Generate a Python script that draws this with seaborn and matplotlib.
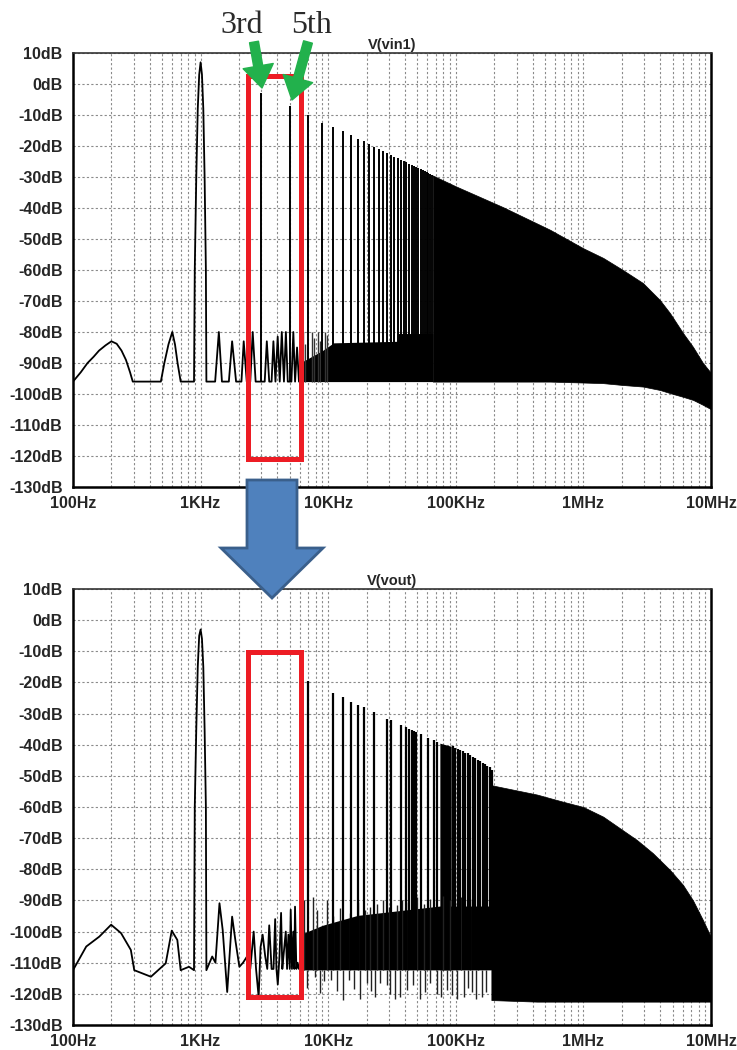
import numpy as np
import matplotlib
matplotlib.use("Agg")
import matplotlib.pyplot as plt
import seaborn as sns
from matplotlib.patches import Polygon, Rectangle, FancyArrowPatch
from matplotlib.ticker import FixedLocator, LogLocator, NullFormatter

# ---------------- V(vin1) : values ----------------
vin_trace_f = [100, 115, 130, 145, 160, 180, 200, 220, 240, 260, 280, 294, 488,
               520, 560, 600, 630, 660, 698, 888,
               900, 925, 950, 975, 1000, 1025, 1050, 1075, 1100, 1110, 1300, 1390,
               1470, 1665, 1766, 1897, 2090, 2177, 2300, 2450, 2560, 2700, 3180,
               3303, 3450, 3600, 3720, 3860, 4020, 4170, 4328, 4500, 4660, 4820,
               5150, 5330, 5500, 5700, 5900, 6000]
vin_trace_db = [-96, -93, -90, -88, -86, -84.3, -83, -83.8, -86, -89, -93, -96, -96,
                -90, -84, -80, -84, -90, -96, -96,
                -60, -30, -8, 3, 7, 3, -8, -30, -60, -96, -96, -80,
                -96, -96, -83, -96, -96, -83, -96, -96, -80, -96, -96,
                -83, -96, -96, -83, -96, -81.5, -96, -80, -96, -80, -96,
                -96, -80, -96, -85, -96, -96]
vin_harm_khz = [3, 5, 7, 9, 11, 13, 15, 17, 19, 21, 23, 25, 27, 29, 31, 33, 35,
                37, 39, 41, 43, 45, 47, 49, 51, 53, 55, 57, 59, 61, 63, 65]
vin_harm_db = [-3, -7, -10, -12.5, -13.8, -15.2, -16.5, -17.6, -18.5, -19.3, -20.2,
               -21, -21.6, -22.2, -22.8, -23.4, -23.9, -24.4, -24.8, -25.3, -25.7,
               -26.1, -26.4, -26.8, -27.2, -27.5, -27.8, -28.1, -28.4, -28.7, -29,
               -29.3]
vin_side_f = [6300, 6600, 7400, 7800, 8300, 8700, 9400, 9800]
vin_side_db = [-80, -84, -80, -82, -80, -83, -80, -81]
vin_floor = -96
vin_band_f = [6000, 9000, 11000, 35000, 35500, 66000]
vin_band_top = [-90, -86, -83.5, -83, -80.5, -80.5]
vin_env_f = [66e3, 1e5, 2.34e5, 5.47e5, 1e6, 1.43e6, 2.04e6, 2.93e6, 3.98e6,
             4.77e6, 6.03e6, 7.23e6, 8.65e6, 1e7]
vin_env_top = [-29.5, -33, -39.7, -47, -53, -56.1, -60, -64.2, -69.7,
               -73.9, -80.3, -84.8, -90, -93.2]
vin_env_bot = [-96, -96, -96, -96, -96.3, -96.5, -97.1, -97.6, -98.7,
               -99.7, -100.9, -101.9, -103.5, -104.9]

# ---------------- V(vout) : values ----------------
vout_trace_f = [100, 127, 161, 199, 238, 284, 302, 408, 533, 594, 657, 698, 811,
                888, 900, 925, 950, 975, 1000, 1025, 1050, 1075, 1100, 1110, 1233,
                1307, 1406, 1490, 1616, 1766, 1876, 2013, 2150, 2312, 2450, 2606,
                2720, 2851, 2950, 3064, 3210, 3330, 3450, 3600, 3727, 3840, 3930,
                4027, 4150, 4273, 4370, 4458, 4652, 4760, 4878, 5000, 5084, 5200,
                5333, 5420, 5495, 5630, 5764, 5900, 6000]
vout_trace_db = [-112.4, -104.8, -101.6, -97.8, -100.5, -105.9, -112.4, -114.5,
                 -110.2, -99.7, -102.7, -112.4, -111.3, -112.4, -60, -35, -15, -5,
                 -3, -6, -15, -35, -60, -112.4, -108, -110, -90.9, -99.5, -119.4,
                 -95.2, -103, -111.3, -110, -108, -112, -100, -112, -121, -105, -101,
                 -108, -112, -98, -112, -112, -96, -112, -117, -108, -94, -112, -108,
                 -100, -112, -101, -112, -93, -112, -100, -112, -92, -112, -110,
                 -112, -112]
vout_harm_khz = [7, 11, 13, 15, 17, 19, 23, 29, 31, 37, 41, 43, 45, 47, 49, 53,
                 61, 67, 71, 95, 99, 104, 108, 114, 119, 125, 130, 136, 142, 148,
                 155, 162, 169, 176, 184, 192]
vout_harm_db = [-19.5, -23.3, -24.8, -26.2, -27.2, -28, -29.6, -31.8, -32.2, -33.7,
                -34.3, -34.8, -35.2, -35.6, -36, -36.6, -37.8, -38.6, -39, -40.5,
                -41, -41.3, -41.8, -42, -42.5, -42.8, -43.3, -43.8, -44.3, -44.8,
                -45.3, -45.8, -46.3, -46.8, -47.3, -48]
vout_up_f = [6500, 7600, 8200, 9700, 11000, 12300, 14800, 17200, 19500, 21300,
             24000, 26900, 30000, 34400, 38000, 42400, 50000, 56000, 62800, 80000,
             90000, 110000, 130000, 150000]
vout_up_db = [-90, -88.8, -93, -89.9, -95, -92.5, -94, -90.4, -93, -92,
              -91, -89.9, -92, -91.5, -90, -90.4, -89, -91, -89.4, -88.5,
              -89.9, -88.8, -89.4, -88.5]
vout_dip_f = [6800, 7900, 8630, 9300, 10600, 11700, 13100, 14600, 16000, 17700,
              20000, 21700, 23300, 25500, 28700, 30500, 33500, 36500, 41200, 46000,
              52400, 57000, 62800, 70800, 77000, 84800, 93000, 102000, 115000,
              124000, 133000, 145000, 160000, 172000]
vout_dip_db = [-118, -114.5, -119.8, -116, -115.6, -119, -122, -115.6, -118.5,
               -121.5, -116.6, -119, -120.9, -116.5, -117.2, -119.9, -121.5, -120.9,
               -118.8, -117, -121.5, -119.5, -116.6, -119.9, -121, -118.8, -120.5,
               -121.5, -120.9, -118, -119.4, -121.5, -120.9, -119.5]
vout_floor = -112.3
vout_band_f = [6000, 9000, 17000, 75000, 190000]
vout_band_top = [-101, -98, -94.8, -91.8, -91.8]
vout_dense_f = [75000, 92000]
vout_dense_top = [-39.5, -40.5]
vout_env_f = [190e3, 433e3, 692e3, 1e6, 1.43e6, 2.63e6, 3.5e6, 4.77e6, 6.03e6,
              7.23e6, 8.65e6, 1e7]
vout_env_top = [-53, -56, -58.3, -60, -63.1, -70.6, -74.8, -80.2, -85,
                -90, -96.3, -101.8]
vout_env_bot = [-122, -122.5, -122.5, -122.5, -122.5, -122.5, -122.5, -122.5,
                -122.5, -122.5, -122.5, -122.5]

# axis ticks
db_ticks = list(range(-130, 11, 10))
freq_ticks = [1e2, 1e3, 1e4, 1e5, 1e6, 1e7]
freq_labels = ["100Hz", "1KHz", "10KHz", "100KHz", "1MHz", "10MHz"]

sns.set_style("white")
plt.rcParams['font.family'] = ['Liberation Sans', 'DejaVu Sans']

fig = plt.figure(figsize=(7.37, 10.5), dpi=100)
W, H = 737.0, 1050.0
ax_top = fig.add_axes([73 / W, 1 - 487 / H, 638 / W, 434 / H])
ax_bot = fig.add_axes([73 / W, 1 - 1025 / H, 638 / W, 436 / H])

RED = '#ed1c24'
GRID = '#8a8a8a'


def style_axes(ax, title):
    ax.set_xscale('log')
    ax.set_xlim(1e2, 1e7)
    ax.set_ylim(-130, 10)
    ax.xaxis.set_major_locator(FixedLocator(freq_ticks))
    ax.set_xticklabels(freq_labels, fontweight='bold', fontsize=11.5)
    ax.xaxis.set_minor_locator(LogLocator(base=10, subs=np.arange(2, 10)))
    ax.xaxis.set_minor_formatter(NullFormatter())
    ax.set_yticks(db_ticks)
    ax.set_yticklabels([f"{v}dB" for v in db_ticks], fontweight='bold', fontsize=11.5)
    ax.grid(True, which='both', axis='x', color=GRID, lw=0.8, ls=(0, (2, 2)))
    ax.grid(True, which='major', axis='y', color=GRID, lw=0.8, ls=(0, (2, 2)))
    ax.tick_params(axis='y', which='major', direction='out', length=7, width=1.5, pad=0.5)
    ax.tick_params(axis='x', which='major', direction='inout', length=9, width=1.5, pad=2)
    ax.tick_params(axis='x', which='minor', direction='in', length=5, width=1.2)
    for side in ['left', 'bottom', 'right']:
        ax.spines[side].set_linewidth(1.8)
        ax.spines[side].set_color('black')
    ax.spines['top'].set_linewidth(1.2)
    ax.spines['top'].set_color('#333333')
    ax.set_xlabel('')
    ax.set_ylabel('')
    ax.set_title(title, fontweight='bold', fontsize=10.5, pad=3)


# ---- top panel ----
ax = ax_top
ax.set_xscale('log')
sns.lineplot(x=vin_trace_f, y=vin_trace_db, ax=ax, color='black', lw=1.3,
             sort=False, estimator=None)
ax.fill_between(vin_band_f, vin_floor, vin_band_top, color='black', lw=0)
ax.vlines(vin_side_f, vin_floor, vin_side_db, colors='#333333', lw=1.0)
ax.vlines(np.array(vin_harm_khz) * 1e3, vin_floor, vin_harm_db, colors='black', lw=1.4)
ax.fill_between(vin_env_f, vin_env_bot, vin_env_top, color='black', lw=0.5, ec='black')
style_axes(ax, 'V(vin1)')
ax.add_patch(Rectangle((2350, -121), 6120 - 2350, 123.6, fill=False, ec=RED, lw=3.6,
                       joinstyle='miter', clip_on=False, zorder=6))

# ---- bottom panel ----
ax = ax_bot
ax.set_xscale('log')
sns.lineplot(x=vout_trace_f, y=vout_trace_db, ax=ax, color='black', lw=1.3,
             sort=False, estimator=None)
ax.fill_between(vout_band_f, vout_floor, vout_band_top, color='black', lw=0)
ax.vlines(vout_up_f, vout_floor, vout_up_db, colors='#222222', lw=1.0)
ax.vlines(vout_dip_f, vout_floor, vout_dip_db, colors='#222222', lw=1.0)
ax.vlines(np.array(vout_harm_khz) * 1e3, vout_floor, vout_harm_db, colors='black', lw=1.6)
ax.fill_between(vout_dense_f, vout_floor, vout_dense_top, color='black', lw=0)
ax.fill_between(vout_env_f, vout_env_bot, vout_env_top, color='black', lw=0.5, ec='black')
style_axes(ax, 'V(vout)')
ax.add_patch(Rectangle((2350, -121), 6120 - 2350, 110.8, fill=False, ec=RED, lw=3.6,
                       joinstyle='miter', clip_on=False, zorder=6))

# ---- overlay annotations (pixel space) ----
ov = fig.add_axes([0, 0, 1, 1], zorder=10)
ov.set_xlim(0, W)
ov.set_ylim(H, 0)
ov.axis('off')
ov.patch.set_alpha(0)

ov.add_patch(Polygon([(247, 480), (297, 480), (297, 548), (323, 548), (272, 598),
                      (221, 548), (247, 548)], closed=True, fc='#4f81bd',
                     ec='#3a5f8b', lw=2))

green = '#22b14c'
for tail, tip in [((254, 42), (262, 88)), ((308, 42), (292, 100))]:
    ov.add_patch(FancyArrowPatch(tail, tip, mutation_scale=1, color=green,
                                 arrowstyle='simple,head_length=16,head_width=22,tail_width=6.5',
                                 shrinkA=0, shrinkB=0))

ov.text(242, 33, '3rd', family=['Liberation Serif', 'DejaVu Serif'], fontsize=23,
        color='#2a2a2a', ha='center', va='baseline')
ov.text(312, 33, '5th', family=['Liberation Serif', 'DejaVu Serif'], fontsize=23,
        color='#2a2a2a', ha='center', va='baseline')

fig.savefig('out.png', dpi=100)
